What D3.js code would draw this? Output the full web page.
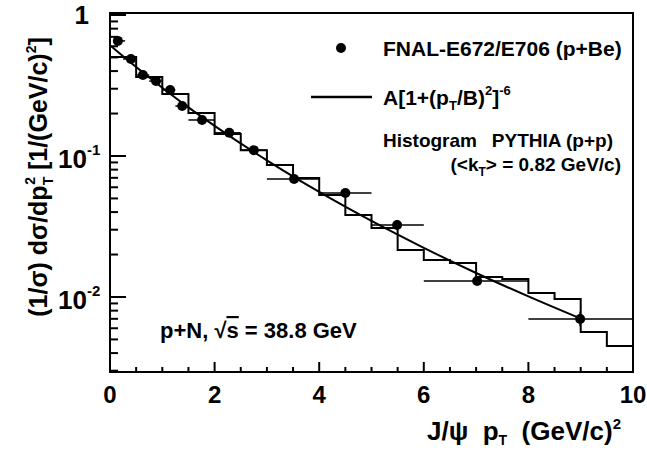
<!DOCTYPE html>
<html><head><meta charset="utf-8">
<script src="https://cdn.jsdelivr.net/npm/d3@7"></script>
<style>body{margin:0;background:#fff}svg text{font-family:"Liberation Sans",Arial,sans-serif;font-weight:bold;fill:#000}</style>
</head><body><svg id="c" width="647" height="450"></svg>
<script>
// data points (FNAL-E672/E706)
const ptX   = [0.15,0.40,0.63,0.88,1.15,1.38,1.76,2.28,2.75,3.52,4.50,5.49,7.02,8.99];
const ptY   = [0.655,0.488,0.375,0.340,0.294,0.226,0.180,0.146,0.110,0.0687,0.0547,0.0324,0.0130,0.00698];
const ptXlo = [0.06,0.25,0.50,0.75,1.00,1.25,1.50,2.00,2.50,3.0,4.0,5.0,6.0,8.0];
const ptXhi = [0.29,0.50,0.75,1.00,1.25,1.50,2.00,2.50,3.00,4.0,5.0,6.0,8.0,10.0];
const ptYlo = [0.62,0.47,0.36,0.325,0.282,0.216,0.172,0.140,0.105,0.0660,0.0525,0.0300,0.0123,0.0062];
const ptYhi = [0.69,0.51,0.39,0.355,0.306,0.236,0.188,0.152,0.115,0.0715,0.0570,0.0350,0.0138,0.0079];
// PYTHIA histogram: bin edges and contents
const histEdges = [0,0.5,1,1.5,2,2.5,3,3.5,4,4.5,5,5.5,6,6.5,7,7.5,8,8.5,9,9.5,10];
const histVals  = [0.503,0.363,0.275,0.202,0.143,0.110,0.0863,0.0698,0.0529,0.0382,0.0309,0.0215,0.0183,0.0174,0.01387,0.01342,0.01067,0.00968,0.00565,0.00449];
// fit curve A[1+(pT/B)^2]^-6
const fitX = [0,0.5,1,1.5,2,3,4,5,6,7,8,9];
const fitY = [0.61,0.427,0.305,0.221,0.1635,0.0931,0.0556,0.0346,0.0223,0.0148,0.0101,0.00703];
const xTicks = [0,2,4,6,8,10];

const svg = d3.select("#c");
const L=110,R=633,T=13,B=372;
const x = d3.scaleLinear().domain([0,10]).range([L,R]);
const y = d3.scaleLog().domain([0.002937,1.033]).range([B,T]);

// frame
svg.append("rect").attr("x",L).attr("y",T).attr("width",R-L).attr("height",B-T)
  .attr("fill","none").attr("stroke","#000").attr("stroke-width",2);

// x ticks
const g = svg.append("g").attr("stroke","#000").attr("stroke-width",2);
d3.range(0,10.01,0.5).forEach(v=>{
  const major = Math.abs(v%2)<1e-9;
  g.append("line").attr("x1",x(v)).attr("x2",x(v)).attr("y1",B).attr("y2",B-(major?10:5));
});
xTicks.forEach(v=>{
  svg.append("text").attr("x",x(v)).attr("y",403).attr("text-anchor","middle")
    .attr("font-size",24).text(v);
});
// y ticks
[0.01,0.1,1].forEach(d=>{
  g.append("line").attr("x1",L).attr("x2",L+16).attr("y1",y(d)).attr("y2",y(d));
});
[0.001,0.01,0.1].forEach(d=>{
  for(let k=2;k<=9;k++){const v=d*k; if(v>=0.00294 && v<=1.03)
    g.append("line").attr("x1",L).attr("x2",L+8).attr("y1",y(v)).attr("y2",y(v));}
});
// y tick labels
svg.append("text").attr("x",89).attr("y",y(1)+9).attr("text-anchor","end").attr("font-size",26).text("1");
[[0.1,"-1"],[0.01,"-2"]].forEach(([v,e])=>{
  const t=svg.append("text").attr("x",58).attr("y",y(v)+12).attr("font-size",26);
  t.append("tspan").text("10");
  t.append("tspan").attr("dy",-13).attr("font-size",15).text(e);
});

// histogram
const hp = d3.path();
hp.moveTo(x(histEdges[0]),y(histVals[0]));
histVals.forEach((v,i)=>{
  hp.lineTo(x(histEdges[i]),y(v)); hp.lineTo(x(histEdges[i+1]),y(v));
  if(i<histVals.length-1) hp.lineTo(x(histEdges[i+1]),y(histVals[i+1]));
});
svg.append("path").attr("d",hp.toString()).attr("fill","none").attr("stroke","#000").attr("stroke-width",2);

// fit curve
svg.append("path").datum(fitX.map((v,i)=>[v,fitY[i]]))
  .attr("d",d3.line().x(d=>x(d[0])).y(d=>y(d[1])).curve(d3.curveMonotoneX))
  .attr("fill","none").attr("stroke","#000").attr("stroke-width",2);

// points with error bars
const eb = svg.append("g").attr("stroke","#000").attr("stroke-width",1.5);
ptX.forEach((v,i)=>{
  eb.append("line").attr("x1",x(ptXlo[i])).attr("x2",x(ptXhi[i])).attr("y1",y(ptY[i])).attr("y2",y(ptY[i]));
  eb.append("line").attr("x1",x(v)).attr("x2",x(v)).attr("y1",y(ptYlo[i])).attr("y2",y(ptYhi[i]));
  svg.append("circle").attr("cx",x(v)).attr("cy",y(ptY[i])).attr("r",5).attr("fill","#000");
});

// legend
svg.append("circle").attr("cx",341).attr("cy",48).attr("r",5).attr("fill","#000");
svg.append("text").attr("x",383).attr("y",56).attr("font-size",21).text("FNAL-E672/E706 (p+Be)");
svg.append("line").attr("x1",311).attr("x2",372).attr("y1",97).attr("y2",97).attr("stroke","#000").attr("stroke-width",2.5);
const lt = svg.append("text").attr("x",383).attr("y",105).attr("font-size",21);
lt.append("tspan").text("A[1+(p");
lt.append("tspan").attr("dy",5).attr("font-size",13).text("T");
lt.append("tspan").attr("dy",-5).text("/B)");
lt.append("tspan").attr("dy",-10).attr("font-size",13).text("2");
lt.append("tspan").attr("dy",10).text("]");
lt.append("tspan").attr("dy",-10).attr("font-size",13).text("-6");
svg.append("text").attr("x",383).attr("y",147).attr("font-size",19).text("Histogram");
svg.append("text").attr("x",613).attr("y",147).attr("font-size",19).attr("text-anchor","end").text("PYTHIA (p+p)");
const kt = svg.append("text").attr("x",621).attr("y",171).attr("font-size",19).attr("text-anchor","end");
kt.append("tspan").text("(<k");
kt.append("tspan").attr("dy",5).attr("font-size",12).text("T");
kt.append("tspan").attr("dy",-5).text("> = 0.82 GeV/c)");
const pn = svg.append("text").attr("x",160).attr("y",338).attr("font-size",22);
pn.append("tspan").text("p+N, \u221A");
pn.append("tspan").attr("text-decoration","overline").text("s");
pn.append("tspan").text(" = 38.8 GeV");

// axis titles
const xt = svg.append("text").attr("x",621).attr("y",440).attr("font-size",26).attr("text-anchor","end");
xt.append("tspan").text("J/\u03C8  p");
xt.append("tspan").attr("dy",5).attr("font-size",14).text("T");
xt.append("tspan").attr("dy",-5).text("  (GeV/c)");
xt.append("tspan").attr("dy",-11).attr("font-size",15).text("2");
xt.attr("xml:space","preserve");
const yt = svg.append("text").attr("transform","translate(47,177) rotate(-90)").attr("font-size",25).attr("text-anchor","middle");
yt.append("tspan").text("(1/\u03C3) d\u03C3/dp");
yt.append("tspan").attr("dy",6).attr("font-size",14).text("T");
yt.append("tspan").attr("dy",-18).attr("font-size",14).attr("dx",-8).text("2");
yt.append("tspan").attr("dy",12).text(" [1/(GeV/c)");
yt.append("tspan").attr("dy",-11).attr("font-size",14).text("2");
yt.append("tspan").attr("dy",11).text("]");
</script></body></html>
